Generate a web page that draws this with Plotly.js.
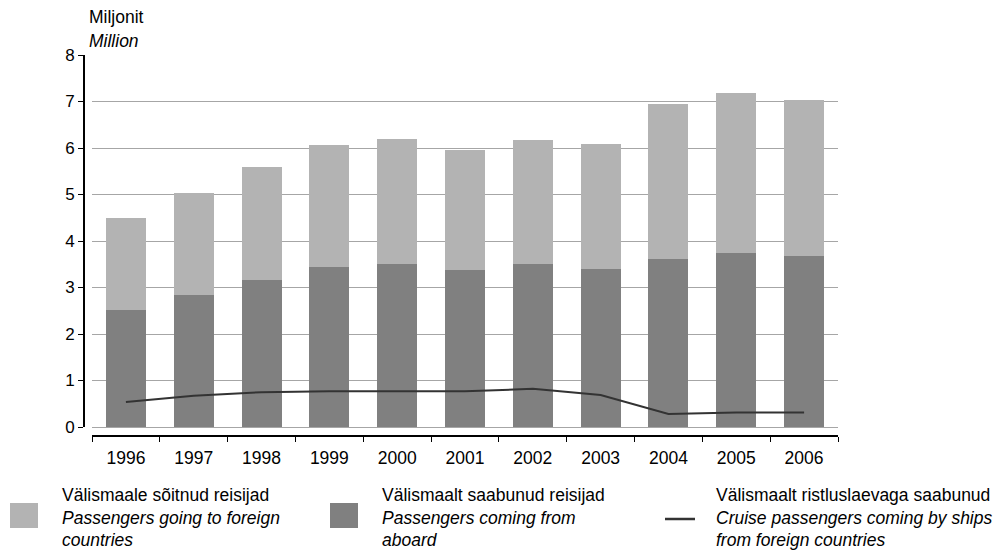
<!DOCTYPE html>
<html>
<head>
<meta charset="utf-8">
<script src="https://cdn.plot.ly/plotly-3.0.1.min.js"></script>
<style>html,body{margin:0;padding:0;background:#fff;}#chart{width:1008px;height:551px;}</style>
</head>
<body>
<div id="chart"></div>
<script>
var years = ['1996','1997','1998','1999','2000','2001','2002','2003','2004','2005','2006'];
var comingFromAbroad = [2.52, 2.84, 3.16, 3.44, 3.51, 3.38, 3.51, 3.40, 3.61, 3.74, 3.68];
var goingAbroad = [1.97, 2.19, 2.43, 2.62, 2.68, 2.58, 2.66, 2.69, 3.34, 3.44, 3.35];
var cruisePassengers = [0.54, 0.67, 0.75, 0.77, 0.77, 0.77, 0.82, 0.69, 0.28, 0.31, 0.31];
var yTicks = [0, 1, 2, 3, 4, 5, 6, 7, 8];

var legendLabels = [
  ['Välismaale sõitnud reisijad', 'Passengers going to foreign', 'countries'],
  ['Välismaalt saabunud reisijad', 'Passengers coming from', 'aboard'],
  ['Välismaalt ristluslaevaga saabunud', 'Cruise passengers coming by ships', 'from foreign countries']
];

var LIGHT = '#b3b3b3', DARK = '#808080', LINE = '#333333';
var FONT = 'Liberation Sans, Arial, sans-serif';

// plot area geometry (pixels)
var ML = 84, MR = 170, MT = 55, MB = 115;
var PW = 1008 - ML - MR, PH = 551 - MT - MB;
function px(x) { return (x - ML) / PW; }
function py(y) { return (551 - MB - y) / PH; }

var traces = [
  {type: 'bar', x: years, y: comingFromAbroad, marker: {color: DARK}, name: legendLabels[1][0], hoverinfo: 'y'},
  {type: 'bar', x: years, y: goingAbroad, marker: {color: LIGHT}, name: legendLabels[0][0], hoverinfo: 'y'},
  {type: 'scatter', mode: 'lines', x: years, y: cruisePassengers, line: {color: LINE, width: 2}, name: legendLabels[2][0], hoverinfo: 'y'}
];

var annotations = [
  {xref: 'paper', yref: 'paper', x: px(87), y: py(17), text: 'Miljonit', showarrow: false, xanchor: 'left', yanchor: 'middle', font: {family: FONT, size: 17.5, color: '#000'}},
  {xref: 'paper', yref: 'paper', x: px(87), y: py(41), text: '<i>Million</i>', showarrow: false, xanchor: 'left', yanchor: 'middle', font: {family: FONT, size: 17.5, color: '#000'}}
];
var shapes = [];
var legX = [61, 381, 715];
var lineYs = [495, 518, 540];
for (var i = 0; i < 3; i++) {
  for (var j = 0; j < 3; j++) {
    annotations.push({xref: 'paper', yref: 'paper', x: px(legX[i]), y: py(lineYs[j]),
      text: j === 0 ? legendLabels[i][j] : '<i>' + legendLabels[i][j] + '</i>',
      showarrow: false, xanchor: 'left', yanchor: 'middle', borderpad: 0,
      font: {family: FONT, size: 17.5, color: '#000'}});
  }
}
shapes.push({type: 'rect', xref: 'paper', yref: 'paper', x0: px(10), x1: px(38), y0: py(503), y1: py(528), fillcolor: LIGHT, line: {width: 0}});
shapes.push({type: 'rect', xref: 'paper', yref: 'paper', x0: px(330), x1: px(358), y0: py(503), y1: py(528), fillcolor: DARK, line: {width: 0}});
shapes.push({type: 'line', xref: 'paper', yref: 'paper', x0: px(665), x1: px(695), y0: py(519), y1: py(519), line: {color: LINE, width: 2.5}});

var layout = {
  width: 1008, height: 551,
  margin: {l: ML, r: MR, t: MT, b: MB, pad: 0},
  paper_bgcolor: '#fff', plot_bgcolor: '#fff',
  barmode: 'stack', bargap: 0.41,
  showlegend: false,
  font: {family: FONT, size: 17.5, color: '#000'},
  xaxis: {
    type: 'category', domain: [8 / PW, 1], anchor: 'free', position: 0,
    showline: true, linecolor: '#000', linewidth: 2,
    ticks: 'outside', tickson: 'boundaries', ticklen: 5, tickwidth: 1, tickcolor: '#000',
    ticklabelstandoff: 6,
    showgrid: false, tickfont: {family: FONT, size: 17.5, color: '#000'}
  },
  yaxis: {
    range: [0, 8], domain: [9 / PH, 1], anchor: 'free', position: 0,
    tickvals: yTicks, ticktext: yTicks.map(String),
    showline: true, linecolor: '#000', linewidth: 2,
    ticks: 'outside', ticklen: 5, tickwidth: 1, tickcolor: '#000',
    showgrid: true, gridcolor: '#a6a6a6', gridwidth: 1,
    zeroline: true, zerolinecolor: '#a6a6a6', zerolinewidth: 1,
    tickfont: {family: FONT, size: 17, color: '#000'}
  },
  annotations: annotations,
  shapes: shapes
};

Plotly.newPlot('chart', traces, layout, {displayModeBar: false, staticPlot: true});
</script>
</body>
</html>
